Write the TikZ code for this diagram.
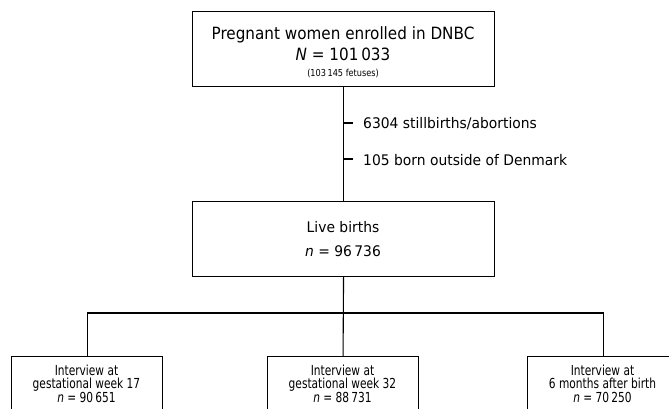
\documentclass[tikz,border=0pt]{standalone}
\usepackage{fontspec}
\setmainfont{DejaVu Sans}
\newfontfamily\fa[FakeStretch=0.9]{DejaVu Sans}
\newfontfamily\fb[FakeStretch=0.95]{DejaVu Sans}
\newfontfamily\fc[FakeStretch=0.77]{DejaVu Sans}
\newfontfamily\fd[FakeStretch=0.85]{DejaVu Sans}
\begin{document}
\begin{tikzpicture}[x=1pt,y=-1pt,
  box/.style={draw,line width=1.1pt,inner sep=0pt,anchor=north west},
  ln/.style={line width=1.1pt},
  txt/.style={anchor=base,inner sep=0pt},
  big/.style={font=\fa\fontsize{16.9}{20}\selectfont},
  mid/.style={font=\fb\fontsize{14.6}{18}\selectfont},
  sml/.style={font=\fc\fontsize{13.8}{15}\selectfont},
  tiny/.style={font=\fd\fontsize{9.6}{11}\selectfont}]
\clip (0,0) rectangle (669,408);
\fill[white] (0,0) rectangle (669,408);
% boxes
\node[box,minimum width=302pt,minimum height=75pt] (top) at (192,11) {};
\node[box,minimum width=302pt,minimum height=75pt] (live) at (192,201) {};
\node[box,minimum width=151pt,minimum height=75pt] (b1) at (11,356) {};
\node[box,minimum width=151pt,minimum height=75pt] (b2) at (267,356) {};
\node[box,minimum width=151pt,minimum height=75pt] (b3) at (527,356) {};
% texts
\node[txt,big] (tt1) at (343,39) {Pregnant women enrolled in DNBC};
\node[txt,big] (tt2) at (343,60) {{\itshape N} = 101\,033};
\node[txt,tiny] (tt3) at (343,76) {(103\,145 fetuses)};
\node[txt,mid] (lt1) at (343,232) {Live births};
\node[txt,mid] (lt2) at (343,256) {{\itshape n} = 96\,736};
\node[txt,mid,anchor=base west] (s1) at (363,128) {6304 stillbirths/abortions};
\node[txt,mid,anchor=base west] (s2) at (363,165) {105 born outside of Denmark};
\node[txt,sml] (a1) at (86.5,375) {Interview at};
\node[txt,sml] (a2) at (86.5,388.5) {gestational week 17};
\node[txt,sml] (a3) at (86.5,402.5) {{\itshape n} = 90\,651};
\node[txt,sml] (c1) at (342.5,375) {Interview at};
\node[txt,sml] (c2) at (342.5,388.5) {gestational week 32};
\node[txt,sml] (c3) at (342.5,402.5) {{\itshape n} = 88\,731};
\node[txt,sml] (d1) at (602.5,375) {Interview at};
\node[txt,sml] (d2) at (602.5,388.5) {6 months after birth};
\node[txt,sml] (d3) at (602.5,402.5) {{\itshape n} = 70\,250};
% connectors
\draw[ln] (top.south) -- (live.north);
\coordinate (k1) at (343,123);
\coordinate (k2) at (343,159);
\draw[ln] (k1) -- ++(10,0);
\draw[ln] (k2) -- ++(10,0);
\coordinate (hy) at (0,313);
\draw[ln] (live.south) -- (b2.north);
\draw[ln] (b1.north) -- (b1.north |- hy) -- (b3.north |- hy) -- (b3.north);
\end{tikzpicture}
\end{document}
